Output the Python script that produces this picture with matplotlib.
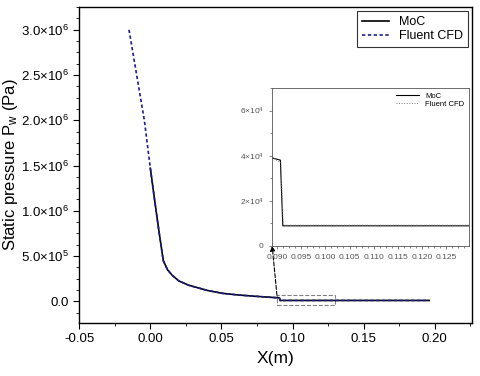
import matplotlib.pyplot as plt
import numpy as np
from matplotlib.ticker import AutoMinorLocator, FuncFormatter, MultipleLocator
from matplotlib.patches import Rectangle

plt.rcParams['font.family'] = ['Liberation Sans', 'DejaVu Sans']
plt.rcParams['mathtext.default'] = 'regular'

# MoC (solid) wall pressure
moc_x = np.array([0.0, 0.003, 0.006, 0.0091, 0.012, 0.0154, 0.02, 0.027, 0.04, 0.0505,
                  0.062, 0.074, 0.089, 0.0907, 0.0912, 0.196])
moc_p = np.array([1.47e6, 1.12e6, 7.8e5, 4.5e5, 3.5e5, 2.87e5, 2.25e5, 1.77e5, 1.2e5, 8.8e4,
                  6.9e4, 5.5e4, 3.9e4, 3.8e4, 8.9e3, 8.9e3])

# Fluent CFD (dashed)
cfd_x = np.array([-0.015, -0.0042, 0.0, 0.003, 0.006, 0.0091, 0.012, 0.0154, 0.02, 0.027,
                  0.04, 0.0505, 0.062, 0.074, 0.089, 0.0908, 0.0913, 0.196])
cfd_p = np.array([3.0e6, 2.0e6, 1.47e6, 1.12e6, 7.8e5, 4.5e5, 3.5e5, 2.87e5, 2.25e5, 1.77e5,
                  1.2e5, 8.8e4, 6.9e4, 5.5e4, 3.9e4, 3.7e4, 9.2e3, 9.2e3])

# zoom box
box_x = (0.089, 0.13)
box_y = (-4.4e4, 6.6e4)


def sci_fmt(v, pos):
    if v == 0:
        return '0.0'
    e = int(np.floor(np.log10(abs(v))))
    return r'$%.1f{\times}10^{%d}$' % (v / 10**e, e)


def sci_fmt_inset(v, pos):
    if v == 0:
        return '0'
    e = int(np.floor(np.log10(abs(v))))
    return r'$%d{\times}10^{%d}$' % (round(v / 10**e), e)


fig = plt.figure(figsize=(4.8, 3.76), dpi=100)
ax = fig.add_axes([0.165, 0.141, 0.818, 0.84])

ax.plot(moc_x, moc_p, color='black', lw=1.2, label='MoC')
ax.plot(cfd_x, cfd_p, color='#1c1c8c', lw=1.2, ls=(0, (2, 1.5)), label='Fluent CFD')

ax.set_xlim(-0.05, 0.226)
ax.set_ylim(-2.4e5, 3.25e6)
ax.xaxis.set_major_locator(MultipleLocator(0.05))
ax.xaxis.set_minor_locator(AutoMinorLocator(2))
ax.yaxis.set_major_locator(MultipleLocator(5e5))
ax.yaxis.set_minor_locator(AutoMinorLocator(4))
ax.yaxis.set_major_formatter(FuncFormatter(sci_fmt))
ax.xaxis.set_major_formatter(FuncFormatter(lambda v, p: '%.2f' % v if abs(v) > 1e-9 else '0.00'))
ax.tick_params(which='both', direction='out', labelsize=9.5)
ax.tick_params(which='major', length=4)
ax.tick_params(which='minor', length=2.5)
for s in ax.spines.values():
    s.set_linewidth(1.0)
ax.set_xlabel('X(m)', fontsize=12.5)
ax.set_ylabel(r'Static pressure P$_w$ (Pa)', fontsize=12, labelpad=1)

leg = ax.legend(loc='upper right', fontsize=9, frameon=True, fancybox=False,
                edgecolor='black', handlelength=2.2, borderaxespad=0.3, labelspacing=0.2)
leg.get_frame().set_linewidth(0.8)

ax.add_patch(Rectangle((box_x[0], box_y[0]), box_x[1] - box_x[0], box_y[1] - box_y[0],
                       fill=False, ls='--', lw=0.8, ec='gray'))

# inset
axins = fig.add_axes([0.567, 0.346, 0.41, 0.42])
axins.plot(moc_x, moc_p, color='black', lw=0.8, label='MoC')
axins.plot(cfd_x, cfd_p, color='gray', lw=0.7, ls=':', label='Fluent CFD')
axins.set_xlim(0.089, 0.1297)
axins.set_ylim(0, 7e4)
axins.xaxis.set_major_locator(MultipleLocator(0.005))
axins.xaxis.set_minor_locator(AutoMinorLocator(4))
axins.yaxis.set_major_locator(MultipleLocator(2e4))
axins.yaxis.set_minor_locator(AutoMinorLocator(2))
axins.yaxis.set_major_formatter(FuncFormatter(sci_fmt_inset))
axins.xaxis.set_major_formatter(FuncFormatter(lambda v, p: '%.3f' % v))
axins.tick_params(which='both', direction='out', labelsize=6, width=0.5, colors='#555555')
axins.tick_params(which='major', length=2.5)
axins.tick_params(which='minor', length=1.5)
for s in axins.spines.values():
    s.set_linewidth(0.6)
    s.set_color('#555555')
ileg = axins.legend(loc='upper right', fontsize=5.5, frameon=False, handlelength=3,
                    borderaxespad=0.2, labelspacing=0.1)

ax.annotate('', xy=(0, 0), xycoords=axins.transAxes,
            xytext=(box_x[0], box_y[1]), textcoords='data',
            arrowprops=dict(arrowstyle='-|>', ls='--', lw=0.8, color='black',
                            mutation_scale=7, shrinkA=0, shrinkB=0))

fig.savefig('out.png', dpi=100)
